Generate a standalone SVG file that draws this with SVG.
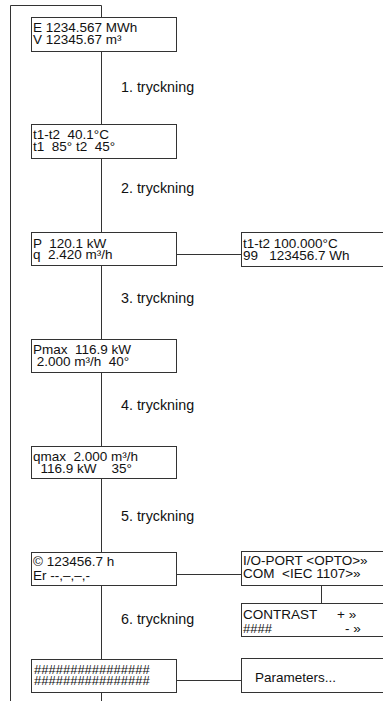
<svg xmlns="http://www.w3.org/2000/svg" width="383" height="701" viewBox="0 0 383 701">
<style>
.box{fill:#fff;stroke:#333;stroke-width:1}
.ln{fill:none;stroke:#333;stroke-width:1}
text{font-family:"Liberation Sans",Arial,sans-serif;font-size:13.5px;fill:#111;white-space:pre}
.lbl{font-size:14.3px}
.hs{font-size:13px}
</style>
<g id="connectors">
<path class="ln" d="M10.5,701 V5.5 H101.5 V17"/>
<path class="ln" d="M101.5,51 V124.5 M101.5,158.5 V232.5 M101.5,265.5 V339 M101.5,372 V446 M101.5,478 V552.5 M101.5,585.5 V659.5 M101.5,692.5 V701"/>
<path class="ln" d="M176,254.5 H241 M176,574.5 H241 M321.5,586 V603.5 M176,680.5 H241"/>
</g>
<g id="n1"><rect class="box" x="31.5" y="17.5" width="145" height="34"/><text x="33" y="32">E 1234.567 MWh<tspan x="33" dy="11.5">V 12345.67 m³</tspan></text></g>
<g id="n2"><rect class="box" x="31.5" y="124.5" width="145" height="34"/><text x="33" y="139.3">t1-t2  40.1°C<tspan x="33" dy="11.2">t1  85° t2  45°</tspan></text></g>
<g id="n3"><rect class="box" x="31.5" y="232.5" width="145" height="33"/><text x="33" y="247.5">P  120.1 kW<tspan x="33" dy="11.5">q  2.420 m³/h</tspan></text></g>
<g id="n3r"><rect class="box" x="241.5" y="232.5" width="150" height="34"/><text x="243" y="248.3">t1-t2 100.000°C<tspan x="243" dy="11.7">99   123456.7 Wh</tspan></text></g>
<g id="n4"><rect class="box" x="31.5" y="339.5" width="145" height="33"/><text x="33" y="354.3">Pmax  116.9 kW<tspan x="33" dy="11.7"> 2.000 m³/h  40°</tspan></text></g>
<g id="n5"><rect class="box" x="31.5" y="446.5" width="145" height="32"/><text x="33" y="461">qmax  2.000 m³/h<tspan x="33" dy="11.5">  116.9 kW    35°</tspan></text></g>
<g id="n6"><rect class="box" x="31.5" y="552.5" width="145" height="33"/><text x="33" y="566">© 123456.7 h<tspan x="33" dy="14">Er --,–,–,-</tspan></text></g>
<g id="n6r"><rect class="box" x="241.5" y="551.5" width="150" height="34"/><text x="243" y="565">I/O-PORT &lt;OPTO&gt;»<tspan x="243" dy="13.3">COM  &lt;IEC 1107&gt;»</tspan></text></g>
<g id="n6c"><rect class="box" x="241.5" y="603.5" width="150" height="33"/><text x="243" y="619.3">CONTRAST<tspan x="337">+ »</tspan><tspan class="hs" x="243" dy="13.4">####</tspan><tspan x="345">- »</tspan></text></g>
<g id="n7"><rect class="box" x="31.5" y="659.5" width="145" height="33"/><text class="hs" x="34" y="673.5">################<tspan x="34" dy="11">################</tspan></text></g>
<g id="n7r"><rect class="box" x="241.5" y="658.5" width="150" height="34"/><text x="255" y="681.7">Parameters...</text></g>
<g id="labels">
<text class="lbl" x="121" y="92">1. tryckning</text>
<text class="lbl" x="121" y="192.7">2. tryckning</text>
<text class="lbl" x="121" y="303.3">3. tryckning</text>
<text class="lbl" x="121" y="410">4. tryckning</text>
<text class="lbl" x="121" y="520.7">5. tryckning</text>
<text class="lbl" x="121" y="624">6. tryckning</text>
</g>
</svg>
